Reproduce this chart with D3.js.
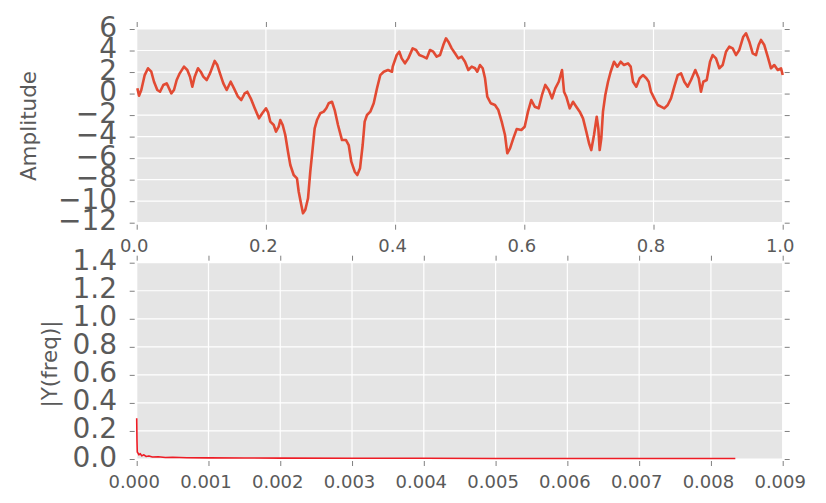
<!DOCTYPE html>
<html>
<head>
<meta charset="utf-8">
<script src="https://cdn.jsdelivr.net/npm/d3@7"></script>
<style>
  html, body { margin: 0; padding: 0; background: #ffffff; }
  svg { display: block; font-family: "DejaVu Sans", sans-serif; }
</style>
</head>
<body>
<svg id="chart" width="826" height="503"></svg>
<script>
// ---- Data ----
const timeX = [0.001,0.0036,0.0071,0.0124,0.0175,0.0226,0.0268,0.0319,0.0361,0.0412,0.0464,0.0489,0.0536,0.0577,0.0619,0.0666,0.0732,0.0783,0.0825,0.0861,0.0898,0.0949,0.0991,0.1031,0.1084,0.1135,0.1207,0.1248,0.1289,0.1341,0.1393,0.1455,0.1506,0.1568,0.1619,0.1672,0.1712,0.1765,0.1827,0.1893,0.1944,0.2002,
  0.2033,0.2068,0.2121,0.2156,0.2198,0.2223,0.2260,0.2300,0.2342,0.2378,0.2430,0.2481,0.2508,0.2548,0.2574,0.2610,0.2652,0.2687,0.2724,0.2755,0.2791,0.2842,0.2895,0.2935,0.2972,0.3023,0.3065,0.3116,0.3178,0.3240,0.3282,0.3322,0.3375,0.3415,0.3457,0.3498,0.3529,0.3565,0.3616,0.3669,0.3720,0.3771,0.3824,0.3890,0.3952,
  0.3963,0.4025,0.4065,0.4102,0.4153,0.4204,0.4272,0.4324,0.4375,0.4437,0.4489,0.4540,0.4591,0.4644,0.4695,0.4746,0.4788,0.4824,0.4876,0.4927,0.4978,0.5031,0.5082,0.5133,0.5186,0.5237,0.5272,0.5314,0.5356,0.5392,0.5427,0.5480,0.5546,0.5598,0.5650,0.5701,0.5737,0.5779,0.5830,0.5882,
  0.5954,0.6006,0.6057,0.6108,0.6161,0.6223,0.6274,0.6325,0.6378,0.6429,0.6480,0.6533,0.6584,0.6615,0.6650,0.6703,0.6754,0.6805,0.6858,0.6909,0.6960,0.7002,0.7037,0.7079,0.7121,0.7146,0.7167,0.7192,0.7218,0.7254,0.7296,0.7337,0.7389,0.7440,0.7492,0.7543,0.7605,0.7647,0.7683,0.7734,0.7786,0.7837,0.7889,
  0.7926,0.7961,0.8012,0.8065,0.8116,0.8167,0.8220,0.8271,0.8322,0.8375,0.8426,0.8477,0.8529,0.8581,0.8647,0.8700,0.8735,0.8771,0.8824,0.8875,0.8916,0.8967,0.9019,0.9071,0.9122,0.9173,0.9226,0.9277,0.9328,0.9390,0.9432,0.9483,0.9536,0.9587,0.9628,0.9664,0.9715,0.9768,0.9819,0.9870,0.9923,0.9974,1.0];
const amplitude = [0.49,-0.2,0.33,1.72,2.35,2.03,1.1,0.33,0.17,0.8,0.95,0.64,0.02,0.33,1.26,1.88,2.5,2.19,1.57,0.64,1.57,2.35,2.03,1.57,1.26,1.88,3.03,2.65,1.88,0.95,0.33,1.1,0.49,-0.29,-0.6,0.02,0.17,-0.44,-1.37,-2.3,-1.83,-1.37,
  -1.74,-2.61,-2.92,-3.54,-3.08,-2.46,-2.92,-3.85,-5.4,-6.64,-7.57,-7.88,-9.12,-10.36,-11.13,-10.8,-9.73,-7.26,-5.09,-3.23,-2.46,-1.83,-1.68,-1.37,-0.9,-0.76,-1.53,-2.92,-4.32,-4.32,-4.78,-6.33,-7.26,-7.57,-6.95,-4.78,-2.61,-1.99,-1.68,-0.9,0.49,1.72,2.03,2.19,2.03,
  2.5,3.58,3.89,3.27,2.81,3.27,4.2,4.05,3.58,3.43,3.27,4.05,3.89,3.43,3.58,4.51,5.13,4.82,4.2,3.74,3.27,3.43,2.96,2.19,2.5,2.35,2.03,2.65,2.35,1.42,-0.29,-0.9,-1.06,-1.53,-2.61,-3.85,-5.55,-5.09,-4.16,-3.3,
  -3.39,-3.08,-1.68,-0.6,-1.22,-1.37,-0.13,0.8,0.33,-0.44,0.49,1.1,2.19,0.17,-0.29,-1.37,-0.76,-1.22,-1.68,-2.3,-3.54,-4.62,-5.25,-3.85,-2.15,-3.23,-5.25,-4.16,-1.68,-0.13,1.1,2.03,2.96,2.5,2.96,2.65,2.81,2.5,1.1,0.64,1.42,1.72,1.42,
  1.1,0.17,-0.44,-1.06,-1.22,-1.37,-1.06,-0.44,0.64,1.72,1.88,1.1,0.64,1.26,2.19,1.42,0.17,1.1,1.26,2.96,3.58,3.27,2.35,2.65,3.89,4.36,4.2,3.58,4.05,5.28,5.6,4.82,3.74,3.58,4.51,4.98,4.51,3.43,2.35,2.65,2.19,2.35,1.72];

const freqX   = [0, 0.000004, 0.000008, 0.000015, 0.00003, 0.00005, 0.00007, 0.0001, 0.00013, 0.00017, 0.00022, 0.0003, 0.0004, 0.0005, 0.0007, 0.001, 0.0015, 0.002, 0.003, 0.004, 0.005, 0.006, 0.007, 0.008, 0.00834];
const freqAmp = [0.29, 0.13, 0.05, 0.045, 0.03, 0.038, 0.022, 0.03, 0.018, 0.022, 0.014, 0.016, 0.011, 0.012, 0.009, 0.008, 0.007, 0.006, 0.005, 0.005, 0.004, 0.004, 0.004, 0.004, 0.004];

const topXTicks = [0, 0.2, 0.4, 0.6, 0.8, 1.0];
const topYTicks = [-12, -10, -8, -6, -4, -2, 0, 2, 4, 6];
const botXTicks = [0, 0.001, 0.002, 0.003, 0.004, 0.005, 0.006, 0.007, 0.008, 0.009];
const botYTicks = [0, 0.2, 0.4, 0.6, 0.8, 1.0, 1.2, 1.4];

const topYLabel = "Amplitude";
const botYLabel = "|Y(freq)|";

// ---- Drawing ----
const svg = d3.select("#chart");
const textColor = "#5a5a5a";
const tickColor = "#808080";
const L = 136.7, R = 782.7;

function panel(cfg) {
  const x = d3.scaleLinear().domain(cfg.xDomain).range([L, R]);
  const y = d3.scaleLinear().domain(cfg.yDomain).range([cfg.bottom, cfg.top]);
  const g = svg.append("g");

  g.append("rect")
    .attr("x", L).attr("y", cfg.top)
    .attr("width", R - L).attr("height", cfg.bottom - cfg.top)
    .attr("fill", "#E5E5E5");

  // grid
  g.append("g").selectAll("line").data(cfg.xTicks).join("line")
    .attr("x1", d => x(d)).attr("x2", d => x(d))
    .attr("y1", cfg.top).attr("y2", cfg.bottom)
    .attr("stroke", "#ffffff").attr("stroke-width", 1.2);
  g.append("g").selectAll("line").data(cfg.yTicks).join("line")
    .attr("y1", d => y(d)).attr("y2", d => y(d))
    .attr("x1", L).attr("x2", R)
    .attr("stroke", "#ffffff").attr("stroke-width", 1.2);

  // line
  const pts = cfg.xs.map((v, i) => [v, cfg.ys[i]]);
  g.append("path")
    .datum(pts)
    .attr("d", d3.line().x(d => x(d[0])).y(d => y(d[1])))
    .attr("fill", "none")
    .attr("stroke", cfg.color)
    .attr("stroke-width", cfg.width)
    .attr("stroke-linejoin", "round");

  const gap = 2, tlen = 5;

  // left axis with labels
  const left = g.append("g").attr("transform", `translate(${L - gap},0)`)
    .call(d3.axisLeft(y).tickValues(cfg.yTicks).tickFormat(cfg.yFmt).tickSize(tlen).tickPadding(12.7));
  left.select(".domain").remove();
  left.selectAll("line").attr("stroke", tickColor);
  left.selectAll("text").attr("fill", textColor).attr("font-size", 28)
    .attr("font-family", "DejaVu Sans").attr("dy", "0.25em");

  // bottom axis with labels
  const bottom = g.append("g").attr("transform", `translate(0,${cfg.bottom + gap})`)
    .call(d3.axisBottom(x).tickValues(cfg.xTicks).tickFormat(cfg.xFmt).tickSize(tlen).tickPadding(9.3));
  bottom.select(".domain").remove();
  bottom.selectAll("line").attr("stroke", tickColor);
  bottom.selectAll("text").attr("fill", textColor).attr("font-size", 18)
    .attr("font-family", "DejaVu Sans").attr("dx", -3);

  // top and right ticks (no labels)
  const topAx = g.append("g").attr("transform", `translate(0,${cfg.top - gap})`)
    .call(d3.axisTop(x).tickValues(cfg.xTicks).tickFormat("").tickSize(tlen));
  topAx.select(".domain").remove();
  topAx.selectAll("line").attr("stroke", tickColor);

  const rightAx = g.append("g").attr("transform", `translate(${R + gap},0)`)
    .call(d3.axisRight(y).tickValues(cfg.yTicks).tickFormat("").tickSize(tlen));
  rightAx.select(".domain").remove();
  rightAx.selectAll("line").attr("stroke", tickColor);

  // y label
  svg.append("text")
    .attr("transform", `translate(${cfg.labelX},${cfg.labelY}) rotate(-90)`)
    .attr("text-anchor", "middle")
    .attr("dominant-baseline", "central")
    .attr("font-size", 21.5)
    .attr("fill", textColor)
    .text(cfg.label);
}

panel({
  xDomain: [0, 1], yDomain: [-12, 6], top: 29, bottom: 222.7,
  xTicks: topXTicks, yTicks: topYTicks,
  xFmt: d3.format(".1f"), yFmt: d3.format("d"),
  xs: timeX, ys: amplitude, color: "#E24A33", width: 2.6,
  label: topYLabel, labelX: 28, labelY: 126
});

panel({
  xDomain: [0, 0.009], yDomain: [0, 1.4], top: 262.7, bottom: 459,
  xTicks: botXTicks, yTicks: botYTicks,
  xFmt: d3.format(".3f"), yFmt: d3.format(".1f"),
  xs: freqX, ys: freqAmp, color: "#EE1C25", width: 1.6,
  label: botYLabel, labelX: 49, labelY: 364
});
</script>
</body>
</html>
